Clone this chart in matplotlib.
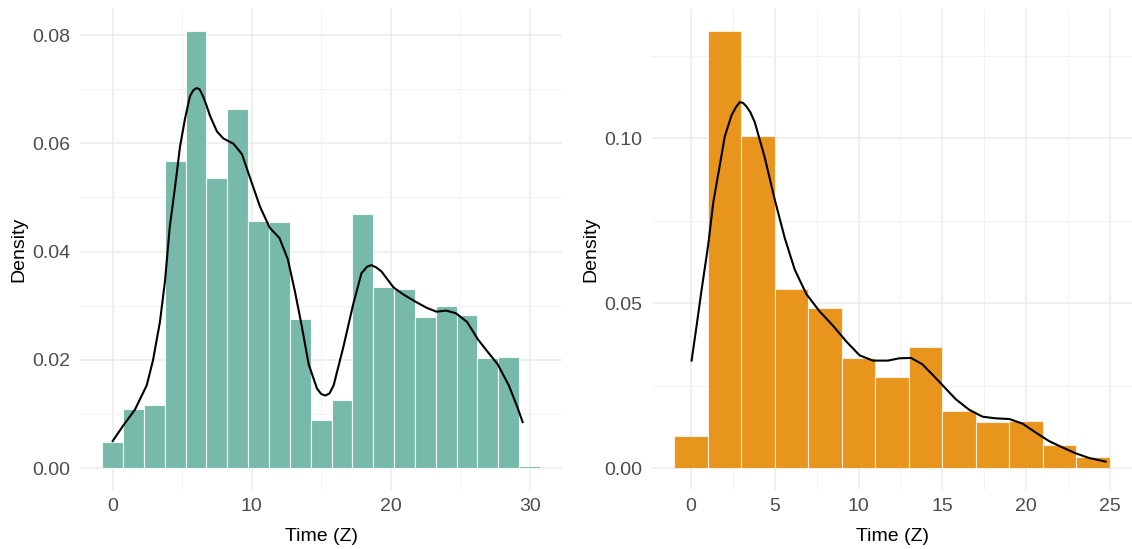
import numpy as np
import matplotlib
matplotlib.use("Agg")
import matplotlib.pyplot as plt
from matplotlib.ticker import MultipleLocator, FormatStrFormatter

plt.rcParams['font.family'] = ['Liberation Sans', 'DejaVu Sans']

# ---- Left panel: histogram (bin width 1.5) and density estimate ----
left_bin_centers = np.arange(0, 30.01, 1.5)
left_density = [0.00485, 0.0110, 0.01164, 0.0567, 0.0807, 0.05354, 0.0664,
                0.0456, 0.0454, 0.0276, 0.00892, 0.0126, 0.0469, 0.03344,
                0.0330, 0.0279, 0.0299, 0.0283, 0.02025, 0.02044, 0.00047]
left_kde_x = [0, 0.77, 1.6, 2.45, 2.9, 3.4, 3.77, 4.1, 4.5, 4.84, 5.2, 5.56,
              5.8, 6.04, 6.25, 6.5, 6.75, 7.0, 7.5, 7.96, 8.7, 9.3, 9.9,
              10.6, 11.3, 12.0, 12.6, 13.1, 13.6, 14.1, 14.7, 15.0, 15.3,
              15.6, 15.9, 16.6, 17.3, 17.9, 18.3, 18.6, 18.95, 19.35, 20.2,
              20.9, 21.75, 22.6, 23.3, 24.0, 24.7, 25.5, 26.3, 27.1, 27.7,
              28.5, 29.1, 29.5]
left_kde_y = [0.0050, 0.0079, 0.0108, 0.0153, 0.0199, 0.0270, 0.0347, 0.0444,
              0.0522, 0.0593, 0.0645, 0.0687, 0.0698, 0.0702, 0.0700, 0.0687,
              0.0670, 0.0651, 0.0622, 0.0609, 0.0599, 0.0580, 0.0535, 0.0483,
              0.0444, 0.0425, 0.0386, 0.0328, 0.0263, 0.0192, 0.0147, 0.0137,
              0.0134, 0.0138, 0.0153, 0.0224, 0.0302, 0.0360, 0.0372, 0.0375,
              0.0371, 0.0363, 0.0334, 0.0321, 0.0308, 0.0296, 0.0289, 0.0291,
              0.0286, 0.0270, 0.0237, 0.0211, 0.0192, 0.0153, 0.0114, 0.0085]

# ---- Right panel: histogram (bin width 2) and density estimate ----
right_bin_centers = np.arange(0, 24.01, 2)
right_density = [0.00966, 0.1325, 0.1007, 0.0542, 0.0486, 0.0333, 0.0277,
                 0.0366, 0.0173, 0.0139, 0.0144, 0.0069, 0.0034]
right_kde_x = [0.04, 0.34, 0.63, 1.03, 1.33, 1.73, 2.02, 2.42, 2.7, 2.92,
               3.1, 3.31, 3.55, 3.81, 4.4, 5.0, 5.6, 6.19, 6.88, 7.68, 8.47,
               9.27, 10.06, 10.85, 11.75, 12.44, 13.13, 13.8, 14.42, 15.0,
               15.8, 16.6, 17.4, 18.2, 19.0, 19.78, 20.57, 21.37, 22.16,
               22.96, 23.75, 24.74]
right_kde_y = [0.0326, 0.0432, 0.0538, 0.0676, 0.0804, 0.0920, 0.1005,
               0.1069, 0.1095, 0.1109, 0.1107, 0.1096, 0.1078, 0.1048,
               0.0942, 0.0814, 0.0697, 0.0602, 0.0528, 0.0475, 0.0432,
               0.0384, 0.0342, 0.0326, 0.0326, 0.0333, 0.0334, 0.0315,
               0.0283, 0.0252, 0.0209, 0.0177, 0.0156, 0.0151, 0.0149,
               0.0135, 0.0108, 0.0082, 0.0063, 0.0045, 0.0031, 0.0020]

x_label = "Time (Z)"
y_label = "Density"

fig = plt.figure(figsize=(11.32, 5.49), dpi=100)
ax_left = fig.add_axes([0.0710, 0.1075, 0.4254, 0.8760])
ax_right = fig.add_axes([0.5763, 0.1075, 0.4235, 0.8760])


def style_axis(ax, xmaj, xmin, ymaj, ymin, fmt):
    for s in ax.spines.values():
        s.set_visible(False)
    ax.xaxis.set_major_locator(MultipleLocator(xmaj))
    ax.xaxis.set_minor_locator(MultipleLocator(xmin))
    ax.yaxis.set_major_locator(MultipleLocator(ymaj))
    ax.yaxis.set_minor_locator(MultipleLocator(ymin))
    ax.yaxis.set_major_formatter(FormatStrFormatter(fmt))
    ax.grid(True, which='major', color='#EBEBEB', linewidth=1.1, zorder=0)
    ax.grid(True, which='minor', color='#F2F2F2', linewidth=0.8, zorder=0)
    ax.set_axisbelow(True)
    ax.tick_params(which='both', length=0, labelsize=14, labelcolor='#4D4D4D')
    ax.tick_params(axis='x', pad=6)
    ax.tick_params(axis='y', pad=7)
    ax.set_xlabel(x_label, fontsize=14, color='black', labelpad=9)
    ax.set_ylabel(y_label, fontsize=14, color='black', labelpad=4)


# Left panel
ax_left.bar(left_bin_centers, left_density, width=1.5, color='#77BAAA',
            edgecolor='#F4F8F6', linewidth=0.8, zorder=2)
ax_left.plot(left_kde_x, left_kde_y, color='black', linewidth=1.5, zorder=3)
ax_left.set_xlim(-2.325, 32.325)
ax_left.set_ylim(-0.00404, 0.0848)
style_axis(ax_left, 10, 5, 0.02, 0.01, '%.2f')

# Right panel
ax_right.bar(right_bin_centers, right_density, width=2, color='#E7951C',
             edgecolor='#F7EEE0', linewidth=0.8, zorder=2)
ax_right.plot(right_kde_x, right_kde_y, color='black', linewidth=1.5, zorder=3)
ax_right.set_xlim(-2.3, 26.3)
ax_right.set_ylim(-0.0066, 0.1391)
style_axis(ax_right, 5, 2.5, 0.05, 0.025, '%.2f')

fig.savefig("out.png", dpi=100, facecolor='white')
